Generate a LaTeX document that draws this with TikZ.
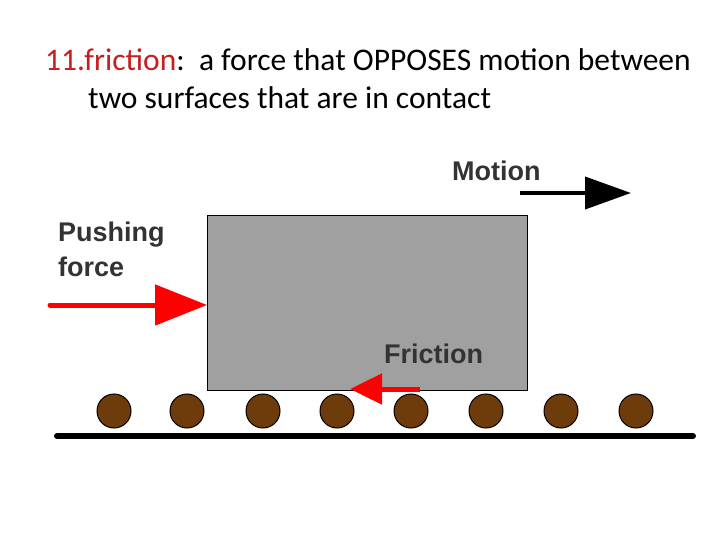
\documentclass[tikz,border=0pt]{standalone}
\usepackage{fontspec}
\setmainfont{Carlito}
\newfontfamily\labelfont{Liberation Sans}
\usetikzlibrary{arrows.meta}
\definecolor{titlered}{RGB}{200,30,30}
\definecolor{rollerbrown}{RGB}{110,60,10}
\definecolor{boxgray}{RGB}{160,160,160}
\tikzset{
  lbl/.style={font=\labelfont\bfseries\fontsize{27}{35}\selectfont,text=black!80,inner sep=0pt},
  roller/.style={draw=black,line width=1pt,fill=rollerbrown}
}
\begin{document}
\begin{tikzpicture}[x=1pt,y=-1pt]
\useasboundingbox (0,0) rectangle (720,540);

\node[anchor=west,inner sep=0pt,font=\fontsize{31.5}{38}\selectfont] (title) at (45,60)
  {\textcolor{titlered}{11.friction}:\ \ a force that OPPOSES motion between};
\node[anchor=west,inner sep=0pt,font=\fontsize{31.5}{38}\selectfont] (title2) at (88,98)
  {two surfaces that are in contact};

% block
\node[draw=black,line width=1pt,fill=boxgray,minimum width=320,minimum height=175,anchor=north west,inner sep=0pt] (block) at (207,215) {};

% ground and rollers
\draw[line width=6pt,line cap=round] (57,436) coordinate (g1) -- (693,436) coordinate (g2);
\foreach \x in {114,187,263,337,411,486,561,636}
  \draw[roller] (\x,411) circle (17);

% labels
\node[lbl,anchor=west] (motion) at (452,171) {Motion};
\node[lbl,anchor=west,align=left] (push) at (58,249) {Pushing\\force};
\node[lbl,anchor=west] (fric) at (384,354) {Friction};

% arrows
\coordinate (m1) at (520,193); \coordinate (m2) at (631,193);
\draw[line width=4pt,-{Triangle[length=46pt,width=32pt]}] (m1) -- (m2);
\coordinate (p1) at (50,305);
\draw[red,line width=5pt,line cap=round,-{Triangle[length=52pt,width=40pt]}] (p1) -- (block.west |- p1);
\coordinate (f1) at (420,389); \coordinate (f2) at (350,389);
\draw[red,line width=5pt,-{Triangle[length=32pt,width=30pt]}] (f1) -- (f2);
\end{tikzpicture}
\end{document}
